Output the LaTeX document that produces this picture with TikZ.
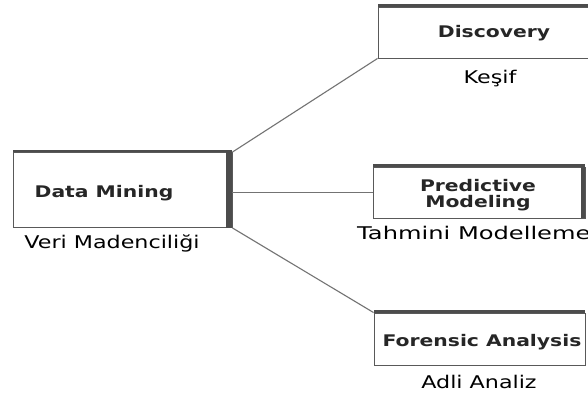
\documentclass[tikz,border=0pt]{standalone}
\usepackage{fontspec}
\usepackage{graphicx}
\setmainfont{DejaVu Sans}
\newfontfamily\boldfont{DejaVu Sans Bold}
\tikzset{
  box/.style={draw=black!65, line width=0.9pt, inner sep=0pt, fill=white},
  boxtext/.style={font=\boldfont\fontsize{16}{16}\selectfont, text=black!85, inner sep=0pt, align=center},
  lab/.style={font=\fontsize{17.5}{19}\selectfont, text=black, inner sep=0pt},
  conn/.style={draw=black!55, line width=1.1pt},
  band/.style={fill=black!70, draw=none}
}
\newcommand{\wide}[1]{\scalebox{1.27}[1]{#1}}
\begin{document}
\begin{tikzpicture}[x=1pt,y=-1pt]
\useasboundingbox[fill=white] (0,0) rectangle (588,394);
% boxes
\node[box, minimum width=219pt, minimum height=75pt] (dm) at (122.5,190) {};
\node[box, minimum width=232pt, minimum height=51pt] (disc) at (494,32.5) {};
\node[box, minimum width=212pt, minimum height=51pt] (pred) at (479,192.5) {};
\node[box, minimum width=211pt, minimum height=52pt] (fore) at (479.5,339) {};
% 3D bands
\fill[band] ([xshift=-6pt]dm.north east) rectangle (dm.south east);
\fill[band] (dm.north west) rectangle ([yshift=2.5pt]dm.north east);
\fill[band] (disc.north west) rectangle ([yshift=2.5pt]disc.north east);
\fill[band] (pred.north west) rectangle ([yshift=2.5pt]pred.north east);
\fill[band] ([xshift=-4pt]pred.north east) rectangle (pred.south east);
\fill[band] (fore.north west) rectangle ([yshift=2.5pt]fore.north east);
% box texts
\node[boxtext] (dmt) at (104,193) {\wide{Data Mining}};
\node[boxtext] (disct) at (494,33) {\wide{Discovery}};
\node[boxtext] (predt) at (478,195) {\wide{Predictive}\\\wide{Modeling}};
\node[boxtext] (foret) at (482,342) {\wide{Forensic Analysis}};
% labels
\node[lab] (dml) at (112,243) {\wide{Veri Madenciliği}};
\node[lab] (discl) at (490,79) {\wide{Keşif}};
\node[lab, anchor=west] (predl) at (357,233) {\scalebox{1.38}[1]{Tahmini Modelleme}};
\node[lab] (forel) at (479,382) {\wide{Adli Analiz}};
% connectors
\draw[conn] (dm.north east) -- (disc.south west);
\draw[conn] (pred.west -| dm.east) -- (pred.west);
\draw[conn] (dm.south east) -- (fore.north west);
\end{tikzpicture}
\end{document}
